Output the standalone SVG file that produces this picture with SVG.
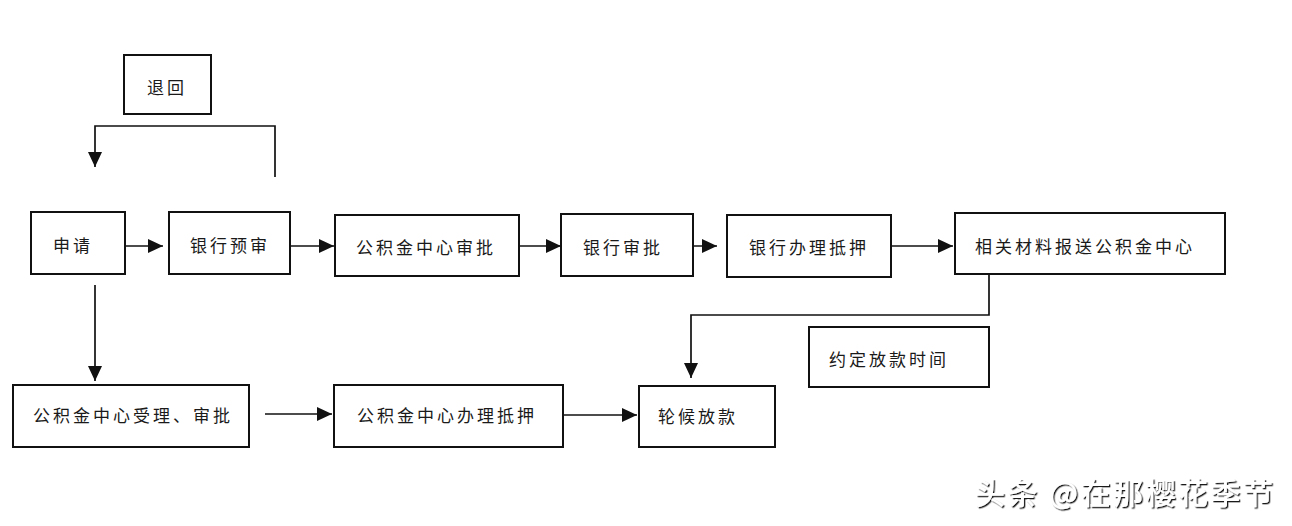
<svg xmlns="http://www.w3.org/2000/svg" width="1292" height="526" viewBox="0 0 1292 526">
<style>
.box{fill:#fff;stroke:#111;stroke-width:2}
.lbl{font-family:"Noto Sans CJK SC","Noto Sans CJK JP",sans-serif;font-size:17px;fill:#1a1a1a;letter-spacing:3px;dominant-baseline:central}
.ln{fill:none;stroke:#111;stroke-width:1.7}
.wm{font-family:"Noto Sans CJK SC",sans-serif;font-size:30px;font-weight:500;fill:#fff;filter:url(#sh)}
</style>
<defs>
<marker id="ah" markerUnits="userSpaceOnUse" markerWidth="16" markerHeight="16" viewBox="0 0 16 16" refX="15" refY="8" orient="auto">
<path d="M0,1 L15,8 L0,15 Z" fill="#111"/>
</marker>
<filter id="sh" x="-5%" y="-20%" width="110%" height="140%">
<feDropShadow dx="1.3" dy="1.3" stdDeviation="0.7" flood-color="#111" flood-opacity="0.95"/>
</filter>
</defs>
<rect width="1292" height="526" fill="#fff"/>

<g id="connectors">
<path class="ln" d="M275,177 V126 H95 V167" marker-end="url(#ah)"/>
<path class="ln" d="M125,246 H163" marker-end="url(#ah)"/>
<path class="ln" d="M291,246 H334" marker-end="url(#ah)"/>
<path class="ln" d="M519,246 H561" marker-end="url(#ah)"/>
<path class="ln" d="M678,246 H717" marker-end="url(#ah)"/>
<path class="ln" d="M891,246 H953" marker-end="url(#ah)"/>
<path class="ln" d="M95,285 V381" marker-end="url(#ah)"/>
<path class="ln" d="M989,274 V315 H691 V378" marker-end="url(#ah)"/>
<path class="ln" d="M265,414 H332" marker-end="url(#ah)"/>
<path class="ln" d="M560,415 H637" marker-end="url(#ah)"/>
</g>

<g id="n-tuihui"><rect class="box" x="124" y="55" width="87" height="59"/><text class="lbl" x="147" y="86">退回</text></g>
<g id="n-shenqing"><rect class="box" x="31" y="212" width="94" height="62"/><text class="lbl" x="53" y="244">申请</text></g>
<g id="n-yinhangyushen"><rect class="box" x="169" y="212" width="121" height="62"/><text class="lbl" x="190" y="244">银行预审</text></g>
<g id="n-gjjshenpi"><rect class="box" x="335" y="215" width="184" height="61"/><text class="lbl" x="356" y="246">公积金中心审批</text></g>
<g id="n-yinhangshenpi"><rect class="box" x="561" y="214" width="132" height="62"/><text class="lbl" x="583" y="246">银行审批</text></g>
<g id="n-yinhangdiya"><rect class="box" x="727" y="215" width="164" height="62"/><text class="lbl" x="749" y="246">银行办理抵押</text></g>
<g id="n-baosong"><rect class="box" x="955" y="213" width="270" height="61"/><text class="lbl" x="975" y="245">相关材料报送公积金中心</text></g>
<g id="n-yueding"><rect class="box" x="809" y="327" width="180" height="60"/><text class="lbl" x="829" y="358">约定放款时间</text></g>
<g id="n-gjjshouli"><rect class="box" x="13" y="385" width="236" height="62"/><text class="lbl" x="33" y="414">公积金中心受理、审批</text></g>
<g id="n-gjjdiya"><rect class="box" x="334" y="385" width="229" height="62"/><text class="lbl" x="357" y="414">公积金中心办理抵押</text></g>
<g id="n-lunhou"><rect class="box" x="639" y="386" width="136" height="61"/><text class="lbl" x="658" y="415">轮候放款</text></g>

<text class="wm" x="975" y="504" textLength="298" lengthAdjust="spacing">头条 @在那樱花季节</text>
</svg>
